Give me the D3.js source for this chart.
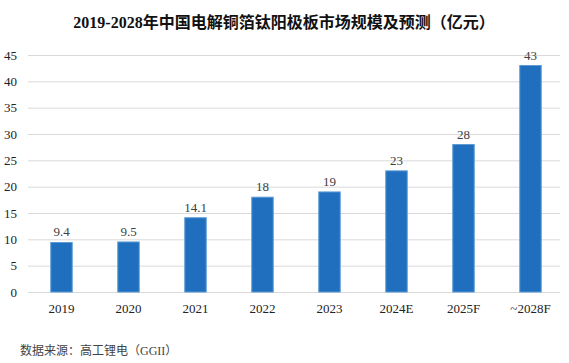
<!DOCTYPE html>
<html lang="zh">
<head>
<meta charset="UTF-8">
<title>电解铜箔钛阳极板市场规模</title>
<style>
    body { margin: 0; padding: 0; background: #fff; }
    svg { display: block; }
    .serif { font-family: "Liberation Serif", "Noto Sans CJK SC", serif; }
    .grid line { stroke: #d9d9d9; stroke-width: 1; }
</style>
</head>
<body>
<div id="chart"></div>
<script src="https://d3js.org/d3.v7.min.js"></script>
<script>
    // 数据
    const years = ["2019", "2020", "2021", "2022", "2023", "2024E", "2025F", "~2028F"];
    const values = [9.4, 9.5, 14.1, 18, 19, 23, 28, 43];
    const yTicks = [0, 5, 10, 15, 20, 25, 30, 35, 40, 45];

    const W = 569, H = 363;
    const svg = d3.select("#chart").append("svg")
        .attr("width", W).attr("height", H);

    const x = d3.scaleBand()
        .domain(years)
        .range([28, 564])
        .paddingInner(0.68)
        .paddingOuter(0.34);

    const y = d3.scaleLinear()
        .domain([0, 45])
        .range([292, 55]);

    // 标题
    svg.append("text")
        .attr("class", "serif")
        .attr("x", 284).attr("y", 28)
        .attr("text-anchor", "middle")
        .style("font-size", "16px")
        .style("font-weight", "bold")
        .style("fill", "#111")
        .text("2019-2028年中国电解铜箔钛阳极板市场规模及预测（亿元）");

    // 网格线
    svg.append("g").attr("class", "grid")
        .selectAll("line")
        .data(yTicks)
        .enter().append("line")
        .attr("x1", 28).attr("x2", 560)
        .attr("y1", d => y(d) + 0.5).attr("y2", d => y(d) + 0.5);

    // y 轴
    svg.append("g")
        .selectAll("text")
        .data(yTicks)
        .enter().append("text")
        .attr("class", "serif")
        .attr("x", 17).attr("y", d => y(d) + 4.5)
        .attr("text-anchor", "end")
        .style("font-size", "13px")
        .style("fill", "#222")
        .text(d => d);

    // 柱子
    svg.append("g")
        .selectAll("rect")
        .data(values)
        .enter().append("rect")
        .attr("x", (d, i) => x(years[i]))
        .attr("y", d => y(d))
        .attr("width", x.bandwidth())
        .attr("height", d => y(0) - y(d))
        .style("fill", "#1f6fbe")
        .style("stroke", "#5b9bd5")
        .style("stroke-width", 1);

    // 数值标签
    svg.append("g")
        .selectAll("text")
        .data(values)
        .enter().append("text")
        .attr("class", "serif")
        .attr("x", (d, i) => x(years[i]) + x.bandwidth() / 2)
        .attr("y", d => y(d) - 6)
        .attr("text-anchor", "middle")
        .style("font-size", "13px")
        .style("fill", "#404040")
        .text(d => d);

    // x 轴标签
    svg.append("g")
        .selectAll("text")
        .data(years)
        .enter().append("text")
        .attr("class", "serif")
        .attr("x", d => x(d) + x.bandwidth() / 2)
        .attr("y", 313)
        .attr("text-anchor", "middle")
        .style("font-size", "13px")
        .style("fill", "#222")
        .text(d => d);

    // 数据来源
    svg.append("text")
        .attr("class", "serif")
        .attr("x", 20).attr("y", 355)
        .style("font-size", "12px")
        .style("fill", "#444")
        .text("数据来源：高工锂电（GGII）");
</script>
</body>
</html>
